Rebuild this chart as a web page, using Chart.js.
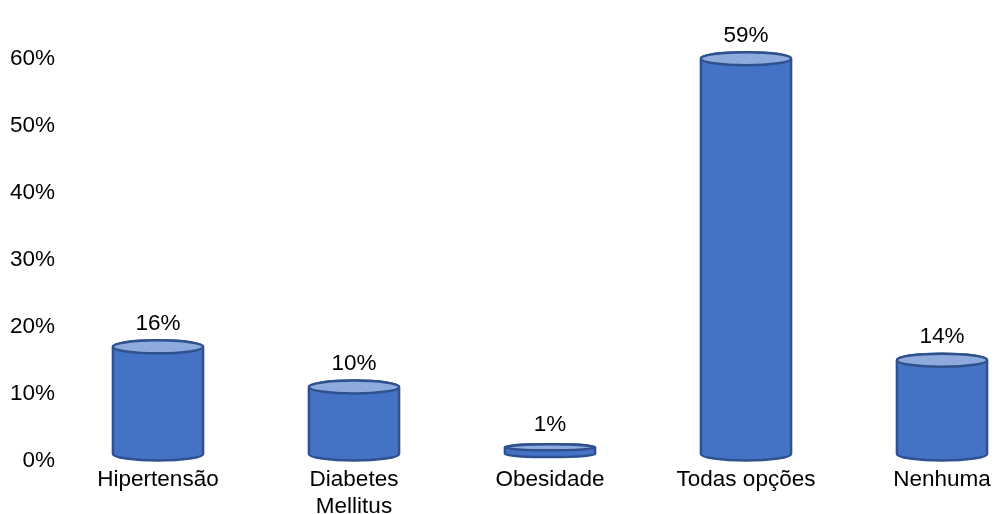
<!DOCTYPE html>
<html>
<head>
<meta charset="utf-8">
<script src="https://cdn.jsdelivr.net/npm/chart.js@4/dist/chart.umd.min.js"></script>
<style>
  html, body { margin: 0; padding: 0; background: #fff; overflow: hidden; }
  #wrap { width: 1040px; height: 514px; }
</style>
</head>
<body>
<div id="wrap"><canvas id="chart"></canvas></div>
<script>
const categories = ['Hipertensão', ['Diabetes', 'Mellitus'], 'Obesidade', 'Todas opções', 'Nenhuma'];
const percentages = [16, 10, 1, 59, 14];
const yTicks = [0, 10, 20, 30, 40, 50, 60];

const FONT = "'Liberation Sans', Arial, sans-serif";

// draws every bar as a cylinder, using the bar element geometry from the scales
const cylinders = {
  id: 'cylinders',
  afterDatasetsDraw(chart) {
    const ctx = chart.ctx;
    const meta = chart.getDatasetMeta(0);
    meta.data.forEach((bar, i) => {
      const { x, y, base, width } = bar.getProps(['x', 'y', 'base', 'width'], true);
      const rx = width / 2;
      const ry = Math.min(6.5, (base - y) * 0.45);
      ctx.save();
      ctx.lineWidth = 2.5;
      ctx.strokeStyle = '#2F528F';
      // body
      ctx.beginPath();
      ctx.moveTo(x - rx, y);
      ctx.lineTo(x - rx, base);
      ctx.ellipse(x, base, rx, ry, 0, Math.PI, 0, true);
      ctx.lineTo(x + rx, y);
      ctx.ellipse(x, y, rx, ry, 0, 0, Math.PI, true);
      ctx.closePath();
      ctx.fillStyle = '#4472C4';
      ctx.fill();
      ctx.stroke();
      // lid
      ctx.beginPath();
      ctx.ellipse(x, y, rx, ry, 0, 0, Math.PI * 2);
      ctx.fillStyle = '#8FAADC';
      ctx.fill();
      ctx.stroke();
      // value label
      ctx.fillStyle = '#000';
      ctx.font = '22.5px ' + FONT;
      ctx.textAlign = 'center';
      ctx.textBaseline = 'middle';
      ctx.fillText(percentages[i] + '%', x, y - 23);
      ctx.restore();
    });
  }
};

new Chart(document.getElementById('chart'), {
  type: 'bar',
  data: {
    labels: categories,
    datasets: [{
      data: percentages,
      backgroundColor: 'rgba(0,0,0,0)',
      borderWidth: 0,
      barPercentage: 0.92,
      categoryPercentage: 0.5
    }]
  },
  options: {
    responsive: true,
    maintainAspectRatio: false,
    animation: false,
    layout: { padding: { top: 52, right: 0, left: 0, bottom: 0 } },
    plugins: { legend: { display: false }, tooltip: { enabled: false } },
    scales: {
      x: {
        grid: { display: false, drawTicks: false },
        border: { display: false },
        ticks: {
          color: '#000',
          font: { family: FONT, size: 22.5 },
          padding: 12,
          maxRotation: 0,
          autoSkip: false
        },
        afterFit: s => { s.height = 60; }
      },
      y: {
        min: 0,
        max: 60,
        afterBuildTicks: s => { s.ticks = yTicks.map(v => ({ value: v })); },
        grid: { display: false, drawTicks: false },
        border: { display: false },
        ticks: {
          color: '#000',
          font: { family: FONT, size: 22.5 },
          padding: 5,
          labelOffset: 7,
          callback: v => v + '%'
        },
        afterFit: s => { s.width = 60; }
      }
    }
  },
  plugins: [cylinders]
});
</script>
</body>
</html>
